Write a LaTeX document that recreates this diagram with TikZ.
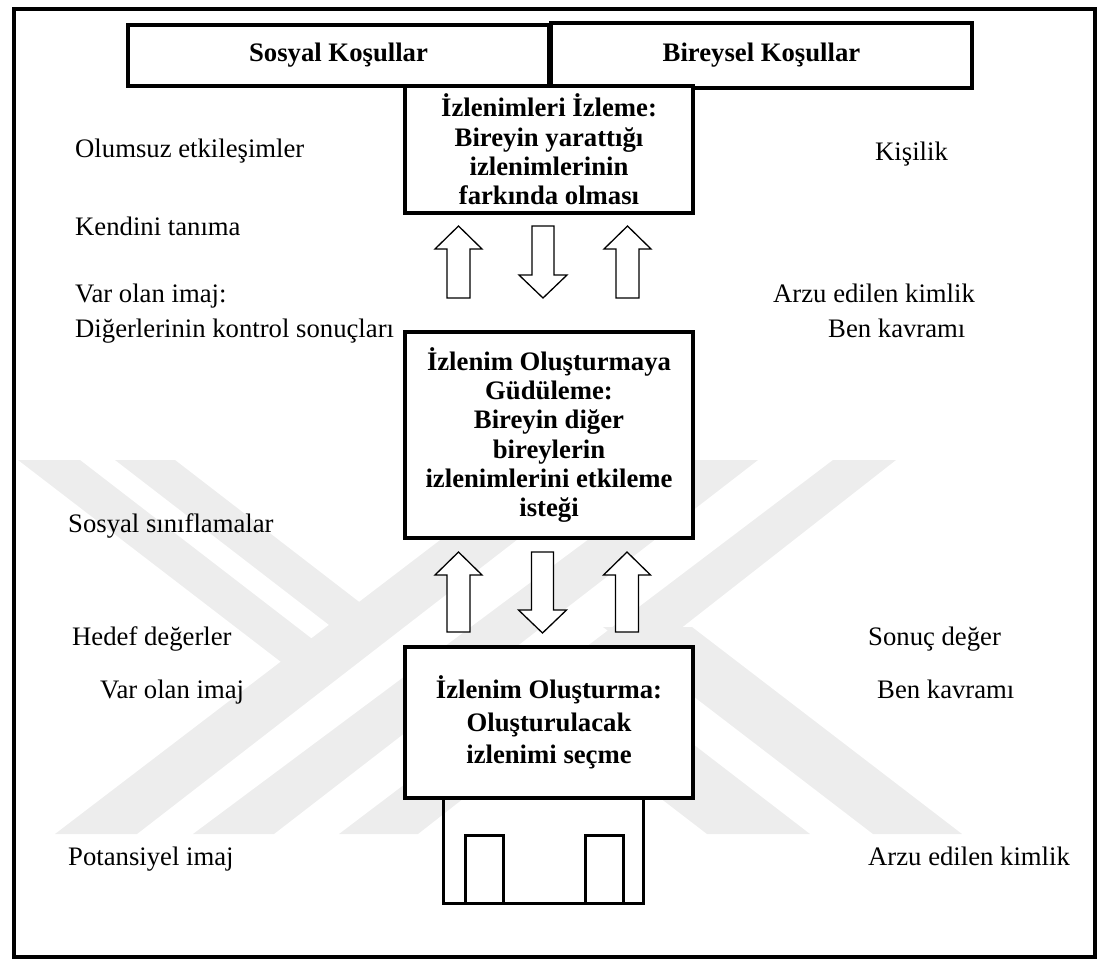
\documentclass[tikz,border=0pt]{standalone}
\usepackage{fontspec}
\setmainfont{Liberation Serif}
\newcommand\blkup[3]{%
  \draw[blockarrow] (#1-11.5,#3) -- (#1-11.5,#2+23) -- (#1-23.5,#2+23) -- (#1,#2) -- (#1+23.5,#2+23) -- (#1+11.5,#2+23) -- (#1+11.5,#3) -- cycle;}
\newcommand\blkdown[3]{%
  \draw[blockarrow] (#1-11,#2) -- (#1+11,#2) -- (#1+11,#3-23) -- (#1+24,#3-23) -- (#1,#3) -- (#1-24,#3-23) -- (#1-11,#3-23) -- cycle;}
\begin{document}
\begin{tikzpicture}[x=1pt,y=-1pt,
  box/.style={draw, line width=4pt, fill=white, align=center, inner sep=0pt,
    font=\bfseries\fontsize{26.7}{29.3}\selectfont},
  lbl/.style={anchor=base west, inner sep=0pt, font=\fontsize{26.7}{29.3}\selectfont},
  blockarrow/.style={draw, line width=1.3pt, fill=white, line join=miter},
  wm/.style={fill=black!7, draw=none},
  thinline/.style={line width=3pt}]
\useasboundingbox (0,0) rectangle (1105,961);
% watermark
\begin{scope}
\clip (0,460) rectangle (1105,834);
\fill[wm] (55,834) -- (137,834) -- (620,460) -- (545,460) -- cycle;
\fill[wm] (193,834) -- (274,834) -- (758,460) -- (695,460) -- cycle;
\fill[wm] (339,834) -- (418,834) -- (896,460) -- (833,460) -- cycle;
\fill[wm] (18,460) -- (80,460) -- (346,665) -- (285,665) -- cycle;
\fill[wm] (115,460) -- (175,460) -- (393,628) -- (333,628) -- cycle;
\fill[wm] (707,834) -- (810,834) -- (620,688) -- (517,688) -- cycle;
\fill[wm] (873,834) -- (962,834) -- (692,627) -- (603,627) -- cycle;
\end{scope}
% frame
\draw[line width=4pt] (14,9) rectangle (1095,957);
% top condition boxes
\node[box, minimum width=421pt, minimum height=61pt] (sosyal) at (338.5,55.5) {Sosyal Koşullar};
\node[box, minimum width=421pt, minimum height=65pt] (bireysel) at (761.5,55.5) {Bireysel Koşullar};
% main boxes
\node[box, minimum width=288pt, minimum height=127pt] (izleme) at (549,149.5)
  {İzlenimleri İzleme:\\Bireyin yarattığı\\izlenimlerinin\\farkında olması};
\node[box, minimum width=288pt, minimum height=206pt] (gudu) at (549,435)
  {İzlenim Oluşturmaya\\Güdüleme:\\Bireyin diğer\\bireylerin\\izlenimlerini etkileme\\isteği};
\node[box, minimum width=288pt, minimum height=151pt,
  font=\bfseries\fontsize{26.7}{32.5}\selectfont] (olus) at (549,722.5)
  {İzlenim Oluşturma:\\Oluşturulacak\\izlenimi seçme};
% pedestal
\draw[thinline] (443,800) -- (443,903) -- (643,903) -- (643,800);
\draw[thinline] (465,903) -- (465,835) -- (503,835) -- (503,903);
\draw[thinline] (585,903) -- (585,835) -- (623,835) -- (623,903);
% block arrows
\blkup{458.5}{226}{298}
\blkdown{543}{226}{298}
\blkup{627.5}{226}{298}
\blkup{458.5}{552}{632}
\blkdown{542.5}{552}{633}
\blkup{627}{552}{632}
% labels
\node[lbl] (l1) at (75,157) {Olumsuz etkileşimler};
\node[lbl] (r1) at (875,160) {Kişilik};
\node[lbl] (l2) at (75,235) {Kendini tanıma};
\node[lbl] (l3) at (75,302) {Var olan imaj:};
\node[lbl] (l4) at (75,337) {Diğerlerinin kontrol sonuçları};
\node[lbl] (r2) at (773,302) {Arzu edilen kimlik};
\node[lbl] (r3) at (828,337) {Ben kavramı};
\node[lbl] (l5) at (68,532) {Sosyal sınıflamalar};
\node[lbl] (l6) at (72,645) {Hedef değerler};
\node[lbl] (l7) at (100,698) {Var olan imaj};
\node[lbl] (l8) at (68,865) {Potansiyel imaj};
\node[lbl] (r4) at (868,645) {Sonuç değer};
\node[lbl] (r5) at (877,698) {Ben kavramı};
\node[lbl] (r6) at (868,865) {Arzu edilen kimlik};
\end{tikzpicture}
\end{document}
